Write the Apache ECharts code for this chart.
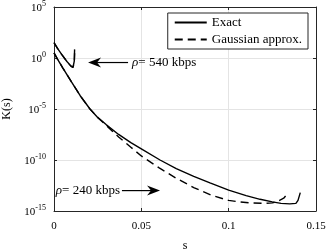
<!DOCTYPE html>
<html>
<head>
<meta charset="utf-8">
<script src="https://cdn.jsdelivr.net/npm/echarts@6/dist/echarts.min.js"></script>
<style>html,body{margin:0;padding:0;background:#fff}#c{width:330px;height:252px}</style>
</head>
<body>
<div id="c"></div>
<script>
// ---- data (s, K(s)) ----
var exact540 = [[0,3.2e1],[0.002,8.9e0],[0.0046,2e0],[0.0074,4.5e-1],[0.0097,1.6e-1],[0.0109,1.2e-1],[0.0113,1.4e-1],[0.0116,5e-1],[0.0117,2e0],[0.0118,7e0]];
var gauss540 = [[0,3.2e1],[0.002,8.9e0],[0.0046,2e0],[0.0074,4.5e-1],[0.0097,1.6e-1],[0.0109,1.2e-1],[0.0114,1.5e-1],[0.0117,6e-1],[0.0118,3e0]];
var exact240 = [[0,3.2e0],[0.002,7.9e-1],[0.005,1.1e-1],[0.01,4.5e-3],[0.015,2e-4],[0.0206,1e-5],[0.025,1.5e-6],[0.03,2.8e-7],[0.037,3.2e-8],[0.044,5e-9],[0.05,1.26e-9],[0.0607,1e-10],[0.07,1.4e-11],[0.08,2.5e-12],[0.0893,5.6e-13],[0.1,1.1e-13],[0.11,3.2e-14],[0.118,1.4e-14],[0.125,7.9e-15],[0.13,5.6e-15],[0.135,5e-15],[0.1385,5.6e-15],[0.1397,1.1e-14],[0.1405,3.2e-14],[0.141,6.3e-14]];
var gauss240 = [[0,3.2e0],[0.002,7.9e-1],[0.005,1.1e-1],[0.01,4.5e-3],[0.015,2e-4],[0.0206,1e-5],[0.025,1.5e-6],[0.03,2.4e-7],[0.037,1.8e-8],[0.044,1.8e-9],[0.05,2.5e-10],[0.06,1.8e-11],[0.07,1.6e-12],[0.08,2e-13],[0.09,3.5e-14],[0.1,1.1e-14],[0.106,7.9e-15],[0.112,6.3e-15],[0.12,5.6e-15],[0.125,6.3e-15],[0.128,8.9e-15],[0.1315,1.8e-14],[0.1335,4.5e-14],[0.134,6.3e-14]];
var xTicks = [0, 0.05, 0.1, 0.15];
var yExponents = [-15, -10, -5, 0, 5];
var seriesNames = ['Exact', 'Gaussian approx.'];
var annot540 = {text: '= 540 kbps', tail: [0.0424, 3.6e-1], tip: [0.0195, 3.6e-1]};
var annot240 = {text: '= 240 kbps', tail: [0.0389, 1.0e-13], tip: [0.0607, 1.0e-13]};

var FONT = '"Liberation Serif", "DejaVu Serif", serif';
var AX = '#262626';
var chart = echarts.init(document.getElementById('c'), null, {renderer: 'canvas'});

function yFmt(v) {
  var e = Math.round(Math.log10(v));
  if (yExponents.indexOf(e) < 0) return '';
  return '{b|10}{s|' + e + '}';
}
var common = {
  axisLine: {show: true, onZero: false, lineStyle: {color: AX, width: 1}},
  axisTick: {show: true, inside: true, length: 3, lineStyle: {color: AX}},
  minorTick: {show: false}
};
var lineBase = function (name, data, dashed) {
  return {
    type: 'line', name: name, data: data, symbol: 'none', showSymbol: false,
    smooth: false, animation: false, clip: true,
    lineStyle: {color: '#000', width: 1.4, type: dashed ? [8, 5] : 'solid'},
    itemStyle: {color: '#000', opacity: 0}, z: 3
  };
};
chart.setOption({
  animation: false,
  backgroundColor: '#fff',
  grid: {left: 54, right: 14, top: 7, bottom: 41, containLabel: false, outerBoundsMode: 'none'},
  legend: {
    data: seriesNames, orient: 'vertical', right: 22, top: 13,
    padding: [3, 6, 3, 6], itemGap: 4, itemWidth: 32, itemHeight: 12,
    backgroundColor: '#fff', borderColor: AX, borderWidth: 1,
    textStyle: {fontFamily: FONT, fontSize: 13, color: '#000'},
    selectedMode: false
  },
  xAxis: [
    Object.assign({
      type: 'value', min: 0, max: 0.15, interval: 0.05, position: 'bottom',
      name: 's', nameLocation: 'middle', nameGap: 29,
      nameTextStyle: {fontFamily: FONT, fontSize: 12, color: '#000'},
      axisLabel: {fontFamily: FONT, fontSize: 11, color: '#000', margin: 10,
        formatter: function (v) { return xTicks.indexOf(+v.toFixed(2)) >= 0 ? String(+v.toFixed(2)) : ''; }},
      splitLine: {show: true, lineStyle: {color: '#e4e4e4', width: 1}}
    }, common),
    Object.assign({
      type: 'value', min: 0, max: 0.15, interval: 0.05, position: 'top',
      axisLabel: {show: false}, splitLine: {show: false}
    }, common)
  ],
  yAxis: [
    Object.assign({
      type: 'log', logBase: 10, min: 1e-15, max: 1e5, interval: 5, position: 'left',
      name: 'K(s)', nameLocation: 'middle', nameGap: 41, nameRotate: 90,
      nameTextStyle: {fontFamily: FONT, fontSize: 12, color: '#000'},
      axisLabel: {margin: 8, formatter: yFmt,
        rich: {
          b: {fontFamily: FONT, fontSize: 11, color: '#000', verticalAlign: 'bottom'},
          s: {fontFamily: FONT, fontSize: 8, color: '#000', verticalAlign: 'bottom', padding: [0, 0, 6, 0]}
        }},
      splitLine: {show: true, lineStyle: {color: '#e4e4e4', width: 1}}
    }, common),
    Object.assign({
      type: 'log', logBase: 10, min: 1e-15, max: 1e5, interval: 5, position: 'right',
      axisLabel: {show: false}, splitLine: {show: false}
    }, common)
  ],
  series: [
    lineBase(seriesNames[0], exact540, false),
    lineBase(seriesNames[1], gauss540, true),
    lineBase(seriesNames[0], exact240, false),
    lineBase(seriesNames[1], gauss240, true)
  ]
});

function px(p) { return chart.convertToPixel({xAxisIndex: 0, yAxisIndex: 0}, p); }
function arrow(a) {
  var t = px(a.tip), s = px(a.tail);
  var dir = s[0] > t[0] ? 1 : -1;
  var L = 13, W = 5, N = 9;
  return [
    {type: 'line', shape: {x1: s[0], y1: s[1], x2: t[0] + dir * N, y2: t[1]},
      style: {stroke: '#000', lineWidth: 1.2}, z: 10},
    {type: 'polygon', shape: {points: [[t[0], t[1]], [t[0] + dir * L, t[1] - W], [t[0] + dir * N, t[1]], [t[0] + dir * L, t[1] + W]]},
      style: {fill: '#000'}, z: 10}
  ];
}
var t540 = px(annot540.tail), t240 = px(annot240.tail);
var g = [].concat(arrow(annot540), arrow(annot240));
g.push({type: 'text', x: t540[0] + 4, y: t540[1], z: 10,
  style: {text: '{i|ρ}' + annot540.text, font: '13px ' + FONT, fill: '#000', verticalAlign: 'middle', align: 'left',
    rich: {i: {fontStyle: 'italic', fontFamily: FONT, fontSize: 13}}}});
g.push({type: 'text', x: t240[0] - 2, y: t240[1], z: 10,
  style: {text: '{i|ρ}' + annot240.text, font: '13px ' + FONT, fill: '#000', verticalAlign: 'middle', align: 'right',
    rich: {i: {fontStyle: 'italic', fontFamily: FONT, fontSize: 13}}}});
chart.setOption({graphic: g});
</script>
</body>
</html>
